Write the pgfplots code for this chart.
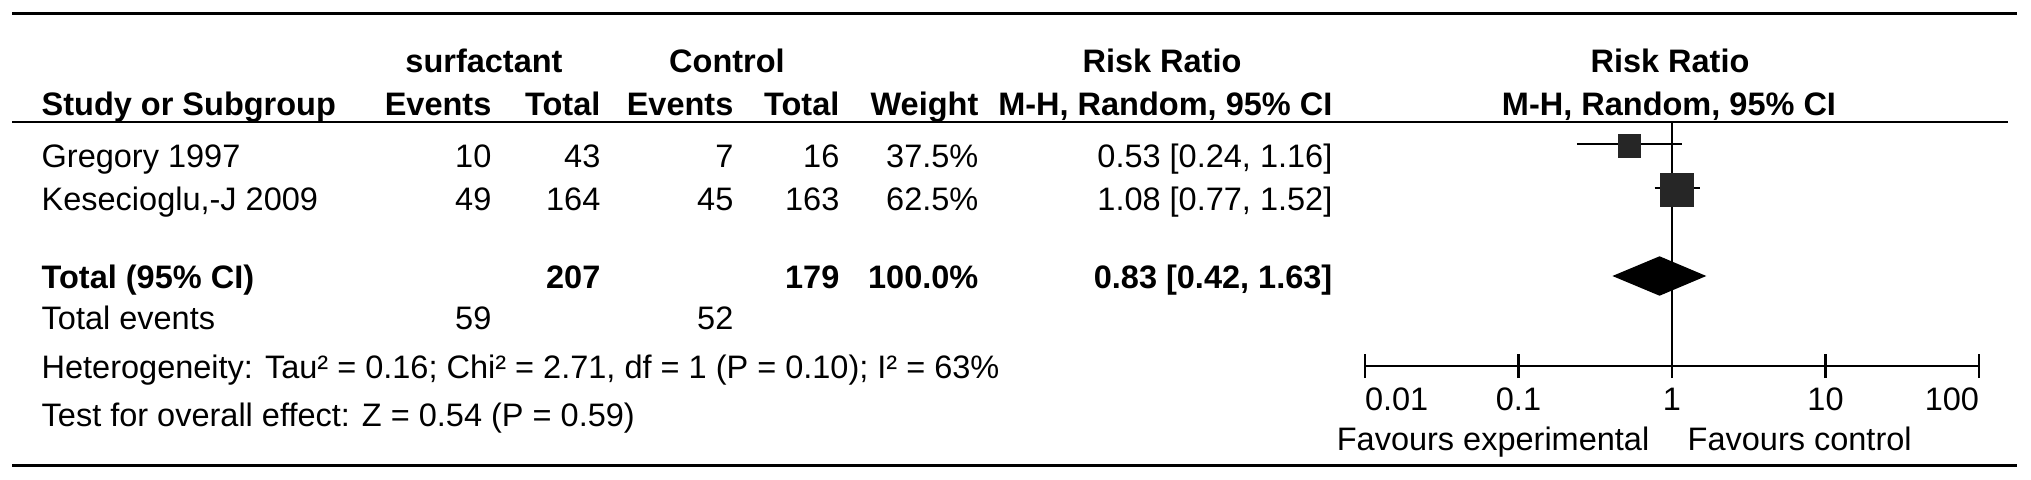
\documentclass[border=0pt]{standalone}
\usepackage{fontspec}
\setmainfont{Liberation Sans}
\usepackage{pgfplots}
\pgfplotsset{compat=1.18}
\newcommand{\fs}{\fontsize{9.75}{12}\selectfont}
\begin{document}
\begin{tikzpicture}
% table part, coordinates in pixels of the reference (0.3pt each)
\begin{scope}[x=0.3pt,y=-0.3pt, every node/.style={inner sep=0pt, font=\fs}]
\path (0,0) rectangle (2031,480);
\draw[line width=0.9pt] (12,14) -- (2017,14);
\draw[line width=0.75pt] (12,122) -- (2008,122);
\draw[line width=0.9pt] (12,466) -- (2017,466);
% header
\node[anchor=base, font=\fs\bfseries] at (484,73) {surfactant};
\node[anchor=base, font=\fs\bfseries] at (727,73) {Control};
\node[anchor=base, font=\fs\bfseries] at (1162,73) {Risk Ratio};
\node[anchor=base, font=\fs\bfseries] at (1670,73) {Risk Ratio};
\node[anchor=base west, font=\fs\bfseries] at (41,116) {Study or Subgroup};
\node[anchor=base east, font=\fs\bfseries] at (492,116) {Events};
\node[anchor=base east, font=\fs\bfseries] at (601,116) {Total};
\node[anchor=base east, font=\fs\bfseries] at (734,116) {Events};
\node[anchor=base east, font=\fs\bfseries] at (840,116) {Total};
\node[anchor=base east, font=\fs\bfseries] at (979,116) {Weight};
\node[anchor=base east, font=\fs\bfseries] at (1333,116) {M-H, Random, 95\% CI};
\node[anchor=base, font=\fs\bfseries] at (1669,116) {M-H, Random, 95\% CI};
% studies
\node[anchor=base west] at (41,168) {Gregory 1997};
\node[anchor=base east] at (492,168) {10};
\node[anchor=base east] at (601,168) {43};
\node[anchor=base east] at (734,168) {7};
\node[anchor=base east] at (840,168) {16};
\node[anchor=base east] at (979,168) {37.5\%};
\node[anchor=base east] at (1333,168) {0.53 [0.24, 1.16]};
\node[anchor=base west] at (41,211) {Kesecioglu,-J 2009};
\node[anchor=base east] at (492,211) {49};
\node[anchor=base east] at (601,211) {164};
\node[anchor=base east] at (734,211) {45};
\node[anchor=base east] at (840,211) {163};
\node[anchor=base east] at (979,211) {62.5\%};
\node[anchor=base east] at (1333,211) {1.08 [0.77, 1.52]};
% totals
\node[anchor=base west, font=\fs\bfseries] at (41,289) {Total (95\% CI)};
\node[anchor=base east, font=\fs\bfseries] at (601,289) {207};
\node[anchor=base east, font=\fs\bfseries] at (840,289) {179};
\node[anchor=base east, font=\fs\bfseries] at (979,289) {100.0\%};
\node[anchor=base east, font=\fs\bfseries] at (1333,289) {0.83 [0.42, 1.63]};
\node[anchor=base west] at (41,330) {Total events};
\node[anchor=base east] at (492,330) {59};
\node[anchor=base east] at (734,330) {52};
\node[anchor=base west] at (41,379) {Heterogeneity: Tau² = 0.16; Chi² = 2.71, df = 1 (P = 0.10); I² = 63\%};
\node[anchor=base west] at (41,427) {Test for overall effect: Z = 0.54 (P = 0.59)};
\node[anchor=base east] at (1650,451) {Favours experimental};
\node[anchor=base west] at (1687,451) {Favours control};
\end{scope}
% forest plot
\begin{axis}[
  at={(409.5pt,0pt)}, anchor=north west,
  width=184.2pt, height=109.8pt, scale only axis,
  xmode=log, xmin=0.01, xmax=100,
  ymin=0, ymax=366, y dir=reverse,
  axis x line*=bottom, axis y line=none,
  x axis line style={-},
  xtick={0.01,0.1,1,10,100},
  xticklabels={\makebox[0pt][l]{0.01},0.1,1,10,\makebox[0pt][r]{100}},
  xminorticks=false,
  tick align=center, major tick length=7.2pt,
  axis line style={line width=0.8pt},
  every tick/.style={black, line width=0.7pt},
  xticklabel style={font=\fs, yshift=0.6pt},
  clip=false,
]
\addplot[black, line width=0.4pt] coordinates {(1,122) (1,366)};
\addplot[black, line width=0.7pt] coordinates {(0.24,144) (1.16,144)};
\addplot[only marks, mark=square*, mark size=3.3pt, black!85] coordinates {(0.53,146)};
\addplot[black, line width=0.7pt] coordinates {(0.77,188) (1.52,188)};
\addplot[only marks, mark=square*, mark size=4.9pt, black!85] coordinates {(1.08,190)};
\addplot[fill=black, draw=black] coordinates {(0.42,276) (0.83,257) (1.63,276) (0.83,295)} -- cycle;
\end{axis}
\end{tikzpicture}
\end{document}
